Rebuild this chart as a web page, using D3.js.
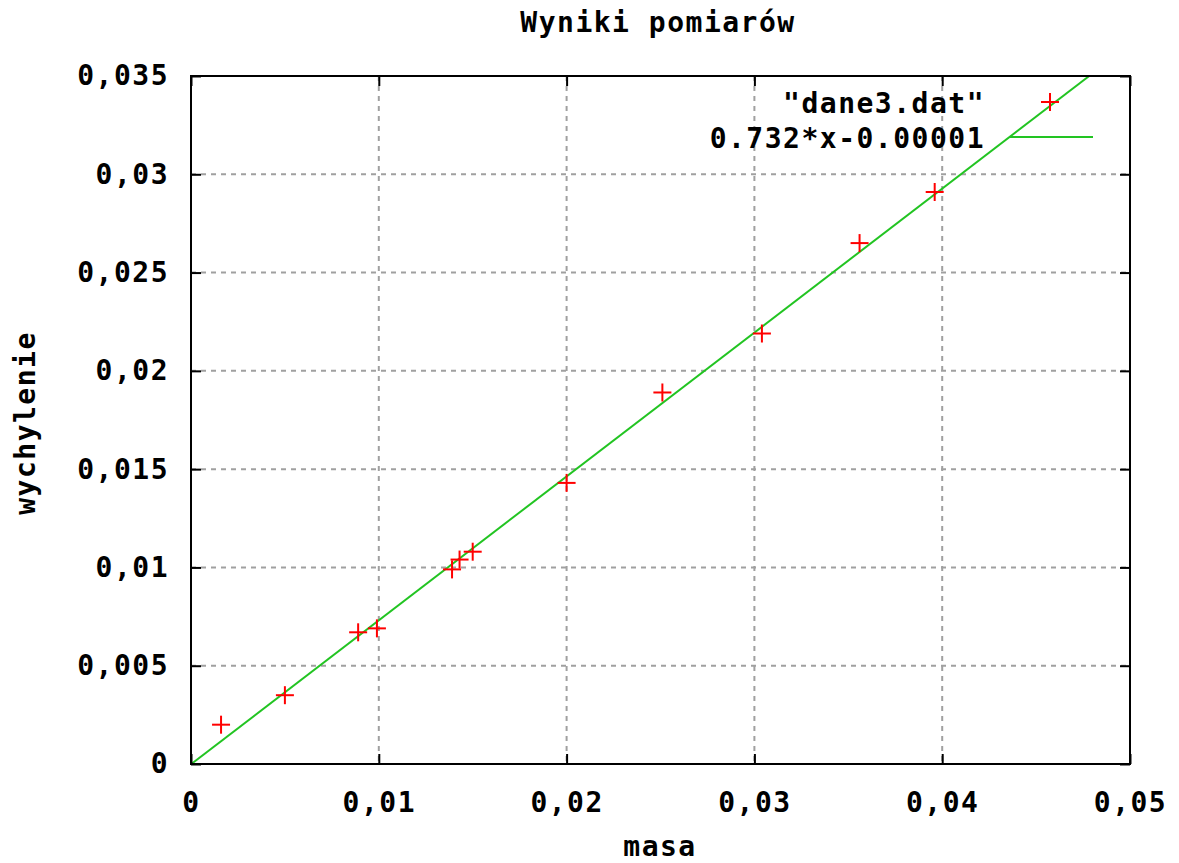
<!DOCTYPE html>
<html>
<head>
<meta charset="utf-8">
<script src="https://cdn.jsdelivr.net/npm/d3@7"></script>
<style>
  body { margin: 0; background: #fff; }
  text { font-family: 'DejaVu Sans Mono', monospace; font-weight: bold; fill: #000; }
</style>
</head>
<body>
<svg id="canvas" width="1179" height="863"></svg>
<script>
// measured data (masa -> wychylenie)
let masa = [0.0016, 0.0050, 0.0089, 0.0099, 0.0139, 0.0143, 0.0150, 0.0200, 0.0251, 0.0304, 0.0356, 0.0396]
let wychylenie = [0.0020, 0.0035, 0.0067, 0.0069, 0.0099, 0.0104, 0.0108, 0.0143, 0.0189, 0.0219, 0.0265, 0.0291]

let xTicks = [0, 0.01, 0.02, 0.03, 0.04, 0.05]
let yTicks = [0, 0.005, 0.01, 0.015, 0.02, 0.025, 0.03, 0.035]

let fitA = 0.732
let fitB = -0.00001

let title = 'Wyniki pomiarów'
let xTitle = 'masa'
let yTitle = 'wychylenie'
let legendData = '"dane3.dat"'
let legendFit = '0.732*x-0.00001'

let svg = d3.select('#canvas')

let plotLeft = 191, plotRight = 1130, plotTop = 76, plotBottom = 764

let xScale = d3.scaleLinear().domain([0, 0.05]).range([plotLeft, plotRight])
let yScale = d3.scaleLinear().domain([0, 0.035]).range([plotBottom, plotTop])

let fmt = (v) => {return String(+v.toFixed(4)).replace('.', ',')}

let drawGrid = () => {
    svg.append('g')
        .selectAll('line')
        .data(xTicks.slice(1, -1))
        .enter()
        .append('line')
        .attr('x1', (d) => xScale(d)).attr('x2', (d) => xScale(d))
        .attr('y1', plotTop).attr('y2', plotBottom)
        .style('stroke', '#a0a0a0').style('stroke-width', 2).style('stroke-dasharray', '5,5')

    svg.append('g')
        .selectAll('line')
        .data(yTicks.slice(1, -1))
        .enter()
        .append('line')
        .attr('y1', (d) => yScale(d)).attr('y2', (d) => yScale(d))
        .attr('x1', plotLeft).attr('x2', plotRight)
        .style('stroke', '#a0a0a0').style('stroke-width', 2).style('stroke-dasharray', '5,5')
}

let drawAxes = () => {
    // bottom / left with labels, top / right mirrored ticks only
    let xAxis = d3.axisBottom(xScale).tickValues(xTicks).tickSize(-10).tickPadding(28).tickFormat(fmt)
    let yAxis = d3.axisLeft(yScale).tickValues(yTicks).tickSize(-10).tickPadding(22).tickFormat(fmt)

    let gx = svg.append('g').attr('transform', 'translate(0,' + plotBottom + ')').call(xAxis)
    let gy = svg.append('g').attr('transform', 'translate(' + plotLeft + ',0)').call(yAxis)
    let gx2 = svg.append('g').attr('transform', 'translate(0,' + plotTop + ')')
        .call(d3.axisTop(xScale).tickValues(xTicks).tickSize(-10).tickFormat(''))
    let gy2 = svg.append('g').attr('transform', 'translate(' + plotRight + ',0)')
        .call(d3.axisRight(yScale).tickValues(yTicks).tickSize(-10).tickFormat(''))

    ;[gx, gy, gx2, gy2].forEach((g) => {
        g.select('.domain').remove()
        g.selectAll('line').style('stroke', '#000').style('stroke-width', 2)
        g.selectAll('text')
            .style('font-family', "'DejaVu Sans Mono', monospace")
            .style('font-weight', 'bold')
            .style('font-size', '28px')
            .style('letter-spacing', '1.5px')
            .style('fill', '#000')
    })
    gx.selectAll('text').attr('dy', '0.71em')

    svg.append('rect')
        .attr('x', plotLeft).attr('y', plotTop)
        .attr('width', plotRight - plotLeft).attr('height', plotBottom - plotTop)
        .style('fill', 'none').style('stroke', '#000').style('stroke-width', 2)
}

let drawFit = () => {
    svg.append('clipPath').attr('id', 'clip')
        .append('rect')
        .attr('x', plotLeft).attr('y', plotTop)
        .attr('width', plotRight - plotLeft).attr('height', plotBottom - plotTop)

    let xEnd = (yScale.domain()[1] - fitB) / fitA
    let line = d3.line()
        .x((d) => xScale(d))
        .y((d) => yScale(fitA * d + fitB))

    svg.append('path')
        .datum([0, xEnd])
        .attr('d', line)
        .attr('clip-path', 'url(#clip)')
        .style('fill', 'none').style('stroke', '#22c422').style('stroke-width', 2)
}

let plus = (g, cx, cy) => {
    g.append('line').attr('x1', cx - 9).attr('x2', cx + 9).attr('y1', cy).attr('y2', cy)
    g.append('line').attr('x1', cx).attr('x2', cx).attr('y1', cy - 9).attr('y2', cy + 9)
}

let drawPoints = () => {
    let g = svg.append('g').style('stroke', '#ff0000').style('stroke-width', 2)
    masa.forEach((m, i) => {
        plus(g, xScale(m), yScale(wychylenie[i]))
    })
}

let drawLegend = () => {
    let lx = 985
    svg.append('text').text(legendData)
        .attr('x', lx).attr('y', 103).attr('dy', '0.36em')
        .style('text-anchor', 'end').style('font-size', '28px').style('letter-spacing', '1.5px')
    svg.append('text').text(legendFit)
        .attr('x', lx).attr('y', 138).attr('dy', '0.36em')
        .style('text-anchor', 'end').style('font-size', '28px').style('letter-spacing', '1.5px')

    let g = svg.append('g').style('stroke', '#ff0000').style('stroke-width', 2)
    plus(g, 1050, 102)
    svg.append('line')
        .attr('x1', 1010).attr('x2', 1093).attr('y1', 137).attr('y2', 137)
        .style('stroke', '#22c422').style('stroke-width', 2)
}

let drawTitles = () => {
    svg.append('text').text(title)
        .attr('x', 658).attr('y', 22).attr('dy', '0.36em')
        .style('text-anchor', 'middle').style('font-size', '28px').style('letter-spacing', '1.5px')
    svg.append('text').text(xTitle)
        .attr('x', 660).attr('y', 856)
        .style('text-anchor', 'middle').style('font-size', '28px').style('letter-spacing', '1.5px')
    svg.append('text').text(yTitle)
        .attr('transform', 'translate(25,423) rotate(-90)')
        .attr('dy', '0.36em')
        .style('text-anchor', 'middle').style('font-size', '28px').style('letter-spacing', '1.5px')
}

drawGrid()
drawFit()
drawAxes()
drawPoints()
drawLegend()
drawTitles()
</script>
</body>
</html>
